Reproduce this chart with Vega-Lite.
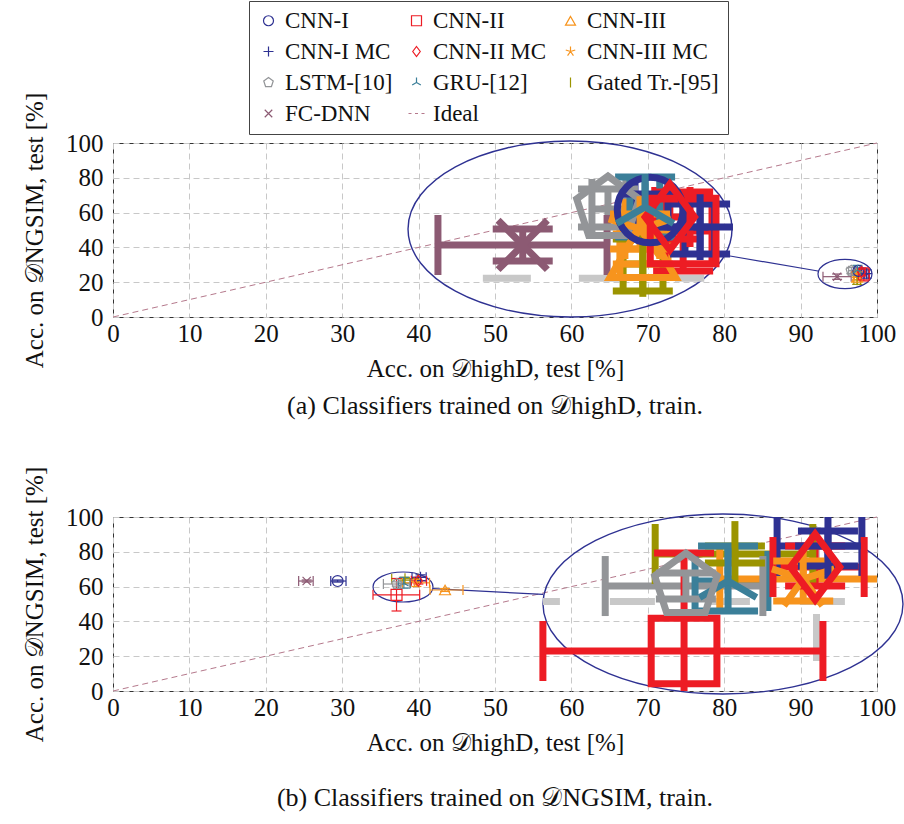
{
"$schema": "https://vega.github.io/schema/vega-lite/v6.json",
"padding": {"left": 22, "top": 0, "right": 0, "bottom": 0},
"spacing": 45,
"config": {
 "font": "Liberation Serif",
 "view": {"stroke": "#333", "strokeWidth": 1},
 "axis": {"labelFont": "Liberation Serif", "labelFontSize": 25, "labelColor": "#111", "titleFont": "Liberation Serif", "titleFontSize": 25, "titleFontWeight": "normal", "titleColor": "#111", "grid": true, "gridColor": "#c8c8c8", "gridDash": [6, 4], "ticks": false, "domain": false, "labelFlush": false, "labelOverlap": false},
 "axisX": {"tickCount": 10, "labelPadding": 4, "titlePadding": 10, "labelFont": "Liberation Serif", "titleFont": "Liberation Serif"},
 "axisY": {"tickCount": 5, "labelPadding": 10, "titlePadding": 18, "labelFont": "Liberation Serif", "titleFont": "Liberation Serif"},
 "title": {"font": "Liberation Serif", "fontSize": 26, "fontWeight": "normal", "color": "#111"},
 "legend": {"orient": "none", "legendX": 136, "legendY": -142, "direction": "horizontal", "columns": 3, "labelFont": "Liberation Serif", "labelFontSize": 23, "labelColor": "#111", "symbolSize": 100, "symbolStrokeWidth": 1.2, "strokeColor": "#444", "fillColor": "#fff", "padding": 8, "rowPadding": 7, "columnPadding": 12, "labelOffset": 5, "labelLimit": 300}
},
"vconcat": [
{
 "width": 764, "height": 174,
 "title": {"text": "(a) Classifiers trained on 𝒟highD, train.", "orient": "bottom", "offset": 12},
 "data": {"values": [
  {"model": "FC-DNN", "x": 94.78, "y": 23.18, "xlo": 92.93, "xhi": 96.62, "ylo": 21.64, "yhi": 24.71},
  {"model": "LSTM-[10]", "x": 96.64, "y": 26.63, "xlo": 96.29, "xhi": 97.03, "ylo": 24.90, "yhi": 28.54},
  {"model": "Gated Tr.-[95]", "x": 97.40, "y": 21.36, "xlo": 96.97, "xhi": 97.84, "ylo": 18.77, "yhi": 23.75},
  {"model": "CNN-III", "x": 97.40, "y": 22.79, "xlo": 96.90, "xhi": 97.95, "ylo": 21.36, "yhi": 24.23},
  {"model": "CNN-III MC", "x": 97.34, "y": 24.71, "xlo": 97.01, "xhi": 97.77, "ylo": 22.79, "yhi": 26.15},
  {"model": "CNN-II", "x": 98.28, "y": 24.52, "xlo": 97.88, "xhi": 98.91, "ylo": 20.69, "yhi": 28.25},
  {"model": "CNN-I MC", "x": 98.65, "y": 24.90, "xlo": 98.32, "xhi": 98.97, "ylo": 22.32, "yhi": 27.10},
  {"model": "CNN-I", "x": 97.56, "y": 26.53, "xlo": 97.23, "xhi": 97.95, "ylo": 24.90, "yhi": 28.06},
  {"model": "CNN-II MC", "x": 97.99, "y": 25.86, "xlo": 97.66, "xhi": 98.43, "ylo": 23.75, "yhi": 27.58},
  {"model": "GRU-[12]", "x": 97.45, "y": 26.82, "xlo": 97.12, "xhi": 97.77, "ylo": 23.94, "yhi": 29.69}
 ]},
 "layer": [
  {"layer": [
   {"data": {"values": [{"x": 0, "y": 0, "xhi": 100, "yhi": 100}]},
    "mark": {"type": "rule", "color": "#b5798c", "strokeDash": [6, 4], "strokeWidth": 1},
    "encoding": {"x": {"field": "x", "type": "quantitative", "scale": {"domain": [0, 100], "nice": false}, "title": "Acc. on 𝒟highD, test [%]"}, "x2": {"field": "xhi"}, "y": {"field": "y", "type": "quantitative", "scale": {"domain": [0, 100], "nice": false}, "title": "Acc. on 𝒟NGSIM, test [%]"}, "y2": {"field": "yhi"}}},
   {"data": {"values": [{"x": 95.81, "y": 24.71}]},
    "mark": {"type": "point", "shape": "M1,0C1,0.3,0.5523,0.543,0,0.543C-0.5523,0.543,-1,0.3,-1,0C-1,-0.3,-0.5523,-0.543,0,-0.543C0.5523,-0.543,1,-0.3,1,0Z", "size": 2916, "filled": false, "color": "#2e3192", "strokeWidth": 1.2, "opacity": 1},
    "encoding": {"x": {"field": "x", "type": "quantitative", "title": "Acc. on 𝒟highD, test [%]"}, "y": {"field": "y", "type": "quantitative", "title": "Acc. on 𝒟NGSIM, test [%]"}}},
   {"data": {"values": [{"x": 59.82, "y": 50.57}]},
    "mark": {"type": "point", "shape": "M1,0C1,0.3,0.5523,0.543,0,0.543C-0.5523,0.543,-1,0.3,-1,0C-1,-0.3,-0.5523,-0.543,0,-0.543C0.5523,-0.543,1,-0.3,1,0Z", "size": 104976, "filled": false, "color": "#2e3192", "strokeWidth": 1.4, "opacity": 1},
    "encoding": {"x": {"field": "x", "type": "quantitative", "title": "Acc. on 𝒟highD, test [%]"}, "y": {"field": "y", "type": "quantitative", "title": "Acc. on 𝒟NGSIM, test [%]"}}},
   {"data": {"values": [{"x": 80.76, "y": 35.06, "xhi": 92.28, "yhi": 26.44}]},
    "mark": {"type": "rule", "color": "#2e3192", "strokeWidth": 1.2},
    "encoding": {"x": {"field": "x", "type": "quantitative", "title": "Acc. on 𝒟highD, test [%]"}, "x2": {"field": "xhi"}, "y": {"field": "y", "type": "quantitative", "title": "Acc. on 𝒟NGSIM, test [%]"}, "y2": {"field": "yhi"}}},
   {"mark": {"type": "rule", "strokeWidth": 1.2},
    "encoding": {"x": {"field": "xlo", "type": "quantitative", "title": "Acc. on 𝒟highD, test [%]"}, "x2": {"field": "xhi"}, "y": {"field": "y", "type": "quantitative", "title": "Acc. on 𝒟NGSIM, test [%]"},
     "color": {"field": "model", "type": "nominal", "title": null, "scale": {"domain": ["CNN-I", "CNN-II", "CNN-III", "CNN-I MC", "CNN-II MC", "CNN-III MC", "LSTM-[10]", "GRU-[12]", "Gated Tr.-[95]", "FC-DNN", "Ideal"], "range": ["#2e3192", "#ed1c24", "#f7941d", "#2e3192", "#ed1c24", "#f7941d", "#939598", "#3b7f99", "#9b9400", "#8c5a73", "#b5798c"]}}}},
   {"mark": {"type": "rule", "strokeWidth": 1.2},
    "encoding": {"x": {"field": "x", "type": "quantitative", "title": "Acc. on 𝒟highD, test [%]"}, "y": {"field": "ylo", "type": "quantitative", "title": "Acc. on 𝒟NGSIM, test [%]"}, "y2": {"field": "yhi"},
     "color": {"field": "model", "type": "nominal", "title": null, "scale": {"domain": ["CNN-I", "CNN-II", "CNN-III", "CNN-I MC", "CNN-II MC", "CNN-III MC", "LSTM-[10]", "GRU-[12]", "Gated Tr.-[95]", "FC-DNN", "Ideal"], "range": ["#2e3192", "#ed1c24", "#f7941d", "#2e3192", "#ed1c24", "#f7941d", "#939598", "#3b7f99", "#9b9400", "#8c5a73", "#b5798c"]}}}},
   {"transform": [{"fold": ["xlo", "xhi"], "as": ["k", "cx"]}],
    "mark": {"type": "point", "shape": "M0,-1L0,1", "size": 100, "filled": false, "strokeWidth": 1.2, "opacity": 1},
    "encoding": {"x": {"field": "cx", "type": "quantitative", "title": "Acc. on 𝒟highD, test [%]"}, "y": {"field": "y", "type": "quantitative", "title": "Acc. on 𝒟NGSIM, test [%]"},
     "color": {"field": "model", "type": "nominal", "title": null, "scale": {"domain": ["CNN-I", "CNN-II", "CNN-III", "CNN-I MC", "CNN-II MC", "CNN-III MC", "LSTM-[10]", "GRU-[12]", "Gated Tr.-[95]", "FC-DNN", "Ideal"], "range": ["#2e3192", "#ed1c24", "#f7941d", "#2e3192", "#ed1c24", "#f7941d", "#939598", "#3b7f99", "#9b9400", "#8c5a73", "#b5798c"]}}}},
   {"transform": [{"fold": ["ylo", "yhi"], "as": ["k", "cy"]}],
    "mark": {"type": "point", "shape": "M-1,0L1,0", "size": 100, "filled": false, "strokeWidth": 1.2, "opacity": 1},
    "encoding": {"x": {"field": "x", "type": "quantitative", "title": "Acc. on 𝒟highD, test [%]"}, "y": {"field": "cy", "type": "quantitative", "title": "Acc. on 𝒟NGSIM, test [%]"},
     "color": {"field": "model", "type": "nominal", "title": null, "scale": {"domain": ["CNN-I", "CNN-II", "CNN-III", "CNN-I MC", "CNN-II MC", "CNN-III MC", "LSTM-[10]", "GRU-[12]", "Gated Tr.-[95]", "FC-DNN", "Ideal"], "range": ["#2e3192", "#ed1c24", "#f7941d", "#2e3192", "#ed1c24", "#f7941d", "#939598", "#3b7f99", "#9b9400", "#8c5a73", "#b5798c"]}}}},
   {"mark": {"type": "point", "size": 120, "filled": false, "strokeWidth": 1.2, "opacity": 1},
    "encoding": {"x": {"field": "x", "type": "quantitative", "title": "Acc. on 𝒟highD, test [%]"}, "y": {"field": "y", "type": "quantitative", "title": "Acc. on 𝒟NGSIM, test [%]"},
     "color": {"field": "model", "type": "nominal", "title": null, "scale": {"domain": ["CNN-I", "CNN-II", "CNN-III", "CNN-I MC", "CNN-II MC", "CNN-III MC", "LSTM-[10]", "GRU-[12]", "Gated Tr.-[95]", "FC-DNN", "Ideal"], "range": ["#2e3192", "#ed1c24", "#f7941d", "#2e3192", "#ed1c24", "#f7941d", "#939598", "#3b7f99", "#9b9400", "#8c5a73", "#b5798c"]}},
     "shape": {"field": "model", "type": "nominal", "title": null, "scale": {"domain": ["CNN-I", "CNN-II", "CNN-III", "CNN-I MC", "CNN-II MC", "CNN-III MC", "LSTM-[10]", "GRU-[12]", "Gated Tr.-[95]", "FC-DNN", "Ideal"], "range": ["circle", "square", "triangle-up", "M-1,0L1,0M0,-1L0,1", "M0,-1L0.75,0L0,1L-0.75,0Z", "M0,0L0,-1M0,0L0.951,-0.309M0,0L0.588,0.809M0,0L-0.588,0.809M0,0L-0.951,-0.309", "M0,-1L0.951,-0.309L0.588,0.809L-0.588,0.809L-0.951,-0.309Z", "M0,0L0,-1M0,0L0.866,0.5M0,0L-0.866,0.5", "M0,-1L0,1", "M-0.75,-0.75L0.75,0.75M-0.75,0.75L0.75,-0.75", "M-1.6,0L-1,0M-0.3,0L0.3,0M1,0L1.6,0"]}}}}
  ]},
  {"layer": [
   {"data": {"values": [{"x": 93.91, "xhi": 98.74, "y": 20}]},
    "mark": {"type": "rule", "color": "#c8c8c8", "strokeWidth": 7, "strokeDash": [48, 48], "clip": true},
    "encoding": {"x": {"field": "x", "type": "quantitative", "scale": {"domain": [85.84, 102.51], "nice": false, "zero": false}, "axis": null}, "x2": {"field": "xhi"}, "y": {"field": "y", "type": "quantitative", "scale": {"domain": [16.28, 32.95], "nice": false, "zero": false}, "axis": null}}},
   {"mark": {"type": "rule", "strokeWidth": 7, "clip": true},
    "encoding": {"x": {"field": "xlo", "type": "quantitative", "scale": {"domain": [85.84, 102.51], "nice": false, "zero": false}, "axis": null}, "x2": {"field": "xhi"}, "y": {"field": "y", "type": "quantitative", "scale": {"domain": [16.28, 32.95], "nice": false, "zero": false}, "axis": null},
     "color": {"field": "model", "type": "nominal", "title": null, "scale": {"domain": ["CNN-I", "CNN-II", "CNN-III", "CNN-I MC", "CNN-II MC", "CNN-III MC", "LSTM-[10]", "GRU-[12]", "Gated Tr.-[95]", "FC-DNN", "Ideal"], "range": ["#2e3192", "#ed1c24", "#f7941d", "#2e3192", "#ed1c24", "#f7941d", "#939598", "#3b7f99", "#9b9400", "#8c5a73", "#b5798c"]}}}},
   {"mark": {"type": "rule", "strokeWidth": 7, "clip": true},
    "encoding": {"x": {"field": "x", "type": "quantitative", "scale": {"domain": [85.84, 102.51], "nice": false, "zero": false}, "axis": null}, "y": {"field": "ylo", "type": "quantitative", "scale": {"domain": [16.28, 32.95], "nice": false, "zero": false}, "axis": null}, "y2": {"field": "yhi"},
     "color": {"field": "model", "type": "nominal", "title": null, "scale": {"domain": ["CNN-I", "CNN-II", "CNN-III", "CNN-I MC", "CNN-II MC", "CNN-III MC", "LSTM-[10]", "GRU-[12]", "Gated Tr.-[95]", "FC-DNN", "Ideal"], "range": ["#2e3192", "#ed1c24", "#f7941d", "#2e3192", "#ed1c24", "#f7941d", "#939598", "#3b7f99", "#9b9400", "#8c5a73", "#b5798c"]}}}},
   {"transform": [{"fold": ["xlo", "xhi"], "as": ["k", "cx"]}],
    "mark": {"type": "point", "shape": "M0,-1L0,1", "size": 3600, "filled": false, "strokeWidth": 7, "opacity": 1, "clip": true},
    "encoding": {"x": {"field": "cx", "type": "quantitative", "scale": {"domain": [85.84, 102.51], "nice": false, "zero": false}, "axis": null}, "y": {"field": "y", "type": "quantitative", "scale": {"domain": [16.28, 32.95], "nice": false, "zero": false}, "axis": null},
     "color": {"field": "model", "type": "nominal", "title": null, "scale": {"domain": ["CNN-I", "CNN-II", "CNN-III", "CNN-I MC", "CNN-II MC", "CNN-III MC", "LSTM-[10]", "GRU-[12]", "Gated Tr.-[95]", "FC-DNN", "Ideal"], "range": ["#2e3192", "#ed1c24", "#f7941d", "#2e3192", "#ed1c24", "#f7941d", "#939598", "#3b7f99", "#9b9400", "#8c5a73", "#b5798c"]}}}},
   {"transform": [{"fold": ["ylo", "yhi"], "as": ["k", "cy"]}],
    "mark": {"type": "point", "shape": "M-1,0L1,0", "size": 3600, "filled": false, "strokeWidth": 7, "opacity": 1, "clip": true},
    "encoding": {"x": {"field": "x", "type": "quantitative", "scale": {"domain": [85.84, 102.51], "nice": false, "zero": false}, "axis": null}, "y": {"field": "cy", "type": "quantitative", "scale": {"domain": [16.28, 32.95], "nice": false, "zero": false}, "axis": null},
     "color": {"field": "model", "type": "nominal", "title": null, "scale": {"domain": ["CNN-I", "CNN-II", "CNN-III", "CNN-I MC", "CNN-II MC", "CNN-III MC", "LSTM-[10]", "GRU-[12]", "Gated Tr.-[95]", "FC-DNN", "Ideal"], "range": ["#2e3192", "#ed1c24", "#f7941d", "#2e3192", "#ed1c24", "#f7941d", "#939598", "#3b7f99", "#9b9400", "#8c5a73", "#b5798c"]}}}},
   {"mark": {"type": "point", "size": 4320, "filled": false, "strokeWidth": 7, "opacity": 1, "clip": true},
    "encoding": {"x": {"field": "x", "type": "quantitative", "scale": {"domain": [85.84, 102.51], "nice": false, "zero": false}, "axis": null}, "y": {"field": "y", "type": "quantitative", "scale": {"domain": [16.28, 32.95], "nice": false, "zero": false}, "axis": null},
     "color": {"field": "model", "type": "nominal", "title": null, "scale": {"domain": ["CNN-I", "CNN-II", "CNN-III", "CNN-I MC", "CNN-II MC", "CNN-III MC", "LSTM-[10]", "GRU-[12]", "Gated Tr.-[95]", "FC-DNN", "Ideal"], "range": ["#2e3192", "#ed1c24", "#f7941d", "#2e3192", "#ed1c24", "#f7941d", "#939598", "#3b7f99", "#9b9400", "#8c5a73", "#b5798c"]}},
     "shape": {"field": "model", "type": "nominal", "title": null, "scale": {"domain": ["CNN-I", "CNN-II", "CNN-III", "CNN-I MC", "CNN-II MC", "CNN-III MC", "LSTM-[10]", "GRU-[12]", "Gated Tr.-[95]", "FC-DNN", "Ideal"], "range": ["circle", "square", "triangle-up", "M-1,0L1,0M0,-1L0,1", "M0,-1L0.75,0L0,1L-0.75,0Z", "M0,0L0,-1M0,0L0.951,-0.309M0,0L0.588,0.809M0,0L-0.588,0.809M0,0L-0.951,-0.309", "M0,-1L0.951,-0.309L0.588,0.809L-0.588,0.809L-0.951,-0.309Z", "M0,0L0,-1M0,0L0.866,0.5M0,0L-0.866,0.5", "M0,-1L0,1", "M-0.75,-0.75L0.75,0.75M-0.75,0.75L0.75,-0.75", "M-1.6,0L-1,0M-0.3,0L0.3,0M1,0L1.6,0"]}}}}
  ]}
 ],
 "resolve": {"scale": {"x": "independent", "y": "independent"}}
},
{
 "width": 764, "height": 174,
 "title": {"text": "(b) Classifiers trained on 𝒟NGSIM, train.", "orient": "bottom", "offset": 30},
 "data": {"values": [
  {"model": "FC-DNN", "x": 25.35, "y": 63.2, "xlo": 24.3, "xhi": 26.2, "ylo": 62.6, "yhi": 63.8},
  {"model": "CNN-I", "x": 29.4, "y": 63.2, "xlo": 28.5, "xhi": 30.5, "ylo": 62.6, "yhi": 63.8},
  {"model": "CNN-III", "x": 43.46, "y": 58.05, "xlo": 41.49, "xhi": 45.81, "ylo": 57.2, "yhi": 58.9},
  {"model": "CNN-II", "x": 37.11, "y": 55.27, "xlo": 34.03, "xhi": 40.14, "ylo": 45.98, "yhi": 64.66},
  {"model": "Gated Tr.-[95]", "x": 38.22, "y": 64.56, "xlo": 36.48, "xhi": 39.92, "ylo": 63.70, "yhi": 65.33},
  {"model": "GRU-[12]", "x": 38.07, "y": 61.97, "xlo": 37.35, "xhi": 38.94, "ylo": 59.1, "yhi": 65.33},
  {"model": "LSTM-[10]", "x": 37.15, "y": 61.49, "xlo": 35.39, "xhi": 38.83, "ylo": 60.25, "yhi": 62.74},
  {"model": "CNN-III MC", "x": 39.71, "y": 62.16, "xlo": 37.89, "xhi": 41.43, "ylo": 60.06, "yhi": 63.89},
  {"model": "CNN-I MC", "x": 40.25, "y": 65.33, "xlo": 39.14, "xhi": 40.99, "ylo": 63.41, "yhi": 66.76},
  {"model": "CNN-II MC", "x": 39.97, "y": 63.31, "xlo": 39.05, "xhi": 41.04, "ylo": 61.49, "yhi": 65.33}
 ]},
 "layer": [
  {"layer": [
   {"data": {"values": [{"x": 0, "y": 0, "xhi": 100, "yhi": 100}]},
    "mark": {"type": "rule", "color": "#b5798c", "strokeDash": [6, 4], "strokeWidth": 1},
    "encoding": {"x": {"field": "x", "type": "quantitative", "scale": {"domain": [0, 100], "nice": false}, "title": "Acc. on 𝒟highD, test [%]"}, "x2": {"field": "xhi"}, "y": {"field": "y", "type": "quantitative", "scale": {"domain": [0, 100], "nice": false}, "title": "Acc. on 𝒟NGSIM, test [%]"}, "y2": {"field": "yhi"}}},
   {"data": {"values": [{"x": 37.96, "y": 59.77}]},
    "mark": {"type": "point", "shape": "M1,0C1,0.276,0.5523,0.5,0,0.5C-0.5523,0.5,-1,0.276,-1,0C-1,-0.276,-0.5523,-0.5,0,-0.5C0.5523,-0.5,1,-0.276,1,0Z", "size": 3600, "filled": false, "color": "#2e3192", "strokeWidth": 1.2, "opacity": 1},
    "encoding": {"x": {"field": "x", "type": "quantitative", "title": "Acc. on 𝒟highD, test [%]"}, "y": {"field": "y", "type": "quantitative", "title": "Acc. on 𝒟NGSIM, test [%]"}}},
   {"data": {"values": [{"x": 79.84, "y": 50.0}]},
    "mark": {"type": "point", "shape": "M1,0C1,0.276,0.5523,0.5,0,0.5C-0.5523,0.5,-1,0.276,-1,0C-1,-0.276,-0.5523,-0.5,0,-0.5C0.5523,-0.5,1,-0.276,1,0Z", "size": 129600, "filled": false, "color": "#2e3192", "strokeWidth": 1.4, "opacity": 1},
    "encoding": {"x": {"field": "x", "type": "quantitative", "title": "Acc. on 𝒟highD, test [%]"}, "y": {"field": "y", "type": "quantitative", "title": "Acc. on 𝒟NGSIM, test [%]"}}},
   {"data": {"values": [{"x": 41.88, "y": 58.85, "xhi": 56.28, "yhi": 55.52}]},
    "mark": {"type": "rule", "color": "#2e3192", "strokeWidth": 1.2},
    "encoding": {"x": {"field": "x", "type": "quantitative", "title": "Acc. on 𝒟highD, test [%]"}, "x2": {"field": "xhi"}, "y": {"field": "y", "type": "quantitative", "title": "Acc. on 𝒟NGSIM, test [%]"}, "y2": {"field": "yhi"}}},
   {"mark": {"type": "rule", "strokeWidth": 1.2},
    "encoding": {"x": {"field": "xlo", "type": "quantitative", "title": "Acc. on 𝒟highD, test [%]"}, "x2": {"field": "xhi"}, "y": {"field": "y", "type": "quantitative", "title": "Acc. on 𝒟NGSIM, test [%]"},
     "color": {"field": "model", "type": "nominal", "title": null, "scale": {"domain": ["CNN-I", "CNN-II", "CNN-III", "CNN-I MC", "CNN-II MC", "CNN-III MC", "LSTM-[10]", "GRU-[12]", "Gated Tr.-[95]", "FC-DNN", "Ideal"], "range": ["#2e3192", "#ed1c24", "#f7941d", "#2e3192", "#ed1c24", "#f7941d", "#939598", "#3b7f99", "#9b9400", "#8c5a73", "#b5798c"]}}}},
   {"mark": {"type": "rule", "strokeWidth": 1.2},
    "encoding": {"x": {"field": "x", "type": "quantitative", "title": "Acc. on 𝒟highD, test [%]"}, "y": {"field": "ylo", "type": "quantitative", "title": "Acc. on 𝒟NGSIM, test [%]"}, "y2": {"field": "yhi"},
     "color": {"field": "model", "type": "nominal", "title": null, "scale": {"domain": ["CNN-I", "CNN-II", "CNN-III", "CNN-I MC", "CNN-II MC", "CNN-III MC", "LSTM-[10]", "GRU-[12]", "Gated Tr.-[95]", "FC-DNN", "Ideal"], "range": ["#2e3192", "#ed1c24", "#f7941d", "#2e3192", "#ed1c24", "#f7941d", "#939598", "#3b7f99", "#9b9400", "#8c5a73", "#b5798c"]}}}},
   {"transform": [{"fold": ["xlo", "xhi"], "as": ["k", "cx"]}],
    "mark": {"type": "point", "shape": "M0,-1L0,1", "size": 100, "filled": false, "strokeWidth": 1.2, "opacity": 1},
    "encoding": {"x": {"field": "cx", "type": "quantitative", "title": "Acc. on 𝒟highD, test [%]"}, "y": {"field": "y", "type": "quantitative", "title": "Acc. on 𝒟NGSIM, test [%]"},
     "color": {"field": "model", "type": "nominal", "title": null, "scale": {"domain": ["CNN-I", "CNN-II", "CNN-III", "CNN-I MC", "CNN-II MC", "CNN-III MC", "LSTM-[10]", "GRU-[12]", "Gated Tr.-[95]", "FC-DNN", "Ideal"], "range": ["#2e3192", "#ed1c24", "#f7941d", "#2e3192", "#ed1c24", "#f7941d", "#939598", "#3b7f99", "#9b9400", "#8c5a73", "#b5798c"]}}}},
   {"transform": [{"fold": ["ylo", "yhi"], "as": ["k", "cy"]}],
    "mark": {"type": "point", "shape": "M-1,0L1,0", "size": 100, "filled": false, "strokeWidth": 1.2, "opacity": 1},
    "encoding": {"x": {"field": "x", "type": "quantitative", "title": "Acc. on 𝒟highD, test [%]"}, "y": {"field": "cy", "type": "quantitative", "title": "Acc. on 𝒟NGSIM, test [%]"},
     "color": {"field": "model", "type": "nominal", "title": null, "scale": {"domain": ["CNN-I", "CNN-II", "CNN-III", "CNN-I MC", "CNN-II MC", "CNN-III MC", "LSTM-[10]", "GRU-[12]", "Gated Tr.-[95]", "FC-DNN", "Ideal"], "range": ["#2e3192", "#ed1c24", "#f7941d", "#2e3192", "#ed1c24", "#f7941d", "#939598", "#3b7f99", "#9b9400", "#8c5a73", "#b5798c"]}}}},
   {"mark": {"type": "point", "size": 120, "filled": false, "strokeWidth": 1.2, "opacity": 1},
    "encoding": {"x": {"field": "x", "type": "quantitative", "title": "Acc. on 𝒟highD, test [%]"}, "y": {"field": "y", "type": "quantitative", "title": "Acc. on 𝒟NGSIM, test [%]"},
     "color": {"field": "model", "type": "nominal", "title": null, "scale": {"domain": ["CNN-I", "CNN-II", "CNN-III", "CNN-I MC", "CNN-II MC", "CNN-III MC", "LSTM-[10]", "GRU-[12]", "Gated Tr.-[95]", "FC-DNN", "Ideal"], "range": ["#2e3192", "#ed1c24", "#f7941d", "#2e3192", "#ed1c24", "#f7941d", "#939598", "#3b7f99", "#9b9400", "#8c5a73", "#b5798c"]}},
     "shape": {"field": "model", "type": "nominal", "title": null, "scale": {"domain": ["CNN-I", "CNN-II", "CNN-III", "CNN-I MC", "CNN-II MC", "CNN-III MC", "LSTM-[10]", "GRU-[12]", "Gated Tr.-[95]", "FC-DNN", "Ideal"], "range": ["circle", "square", "triangle-up", "M-1,0L1,0M0,-1L0,1", "M0,-1L0.75,0L0,1L-0.75,0Z", "M0,0L0,-1M0,0L0.951,-0.309M0,0L0.588,0.809M0,0L-0.588,0.809M0,0L-0.951,-0.309", "M0,-1L0.951,-0.309L0.588,0.809L-0.588,0.809L-0.951,-0.309Z", "M0,0L0,-1M0,0L0.866,0.5M0,0L-0.866,0.5", "M0,-1L0,1", "M-0.75,-0.75L0.75,0.75M-0.75,0.75L0.75,-0.75", "M-1.6,0L-1,0M-0.3,0L0.3,0M1,0L1.6,0"]}}}}
  ]},
  {"transform": [{"filter": "datum.x > 33 && datum.x < 42"}],
   "layer": [
   {"data": {"values": [{"x": 34.03, "xhi": 41.32, "y": 60}]},
    "mark": {"type": "rule", "color": "#c8c8c8", "strokeWidth": 7, "strokeDash": [45, 50], "strokeDashOffset": 28, "clip": true},
    "encoding": {"x": {"field": "x", "type": "quantitative", "scale": {"domain": [24.65, 41.32], "nice": false, "zero": false}, "axis": null}, "x2": {"field": "xhi"}, "y": {"field": "y", "type": "quantitative", "scale": {"domain": [51.44, 68.10], "nice": false, "zero": false}, "axis": null}}},
   {"data": {"values": [{"x": 40, "y": 67.15, "yhi": 52.39}]},
    "mark": {"type": "rule", "color": "#c8c8c8", "strokeWidth": 7, "strokeDash": [47, 48], "strokeDashOffset": 8, "clip": true},
    "encoding": {"x": {"field": "x", "type": "quantitative", "scale": {"domain": [24.65, 41.32], "nice": false, "zero": false}, "axis": null}, "y": {"field": "y", "type": "quantitative", "scale": {"domain": [51.44, 68.10], "nice": false, "zero": false}, "axis": null}, "y2": {"field": "yhi"}}},
   {"mark": {"type": "rule", "strokeWidth": 7, "clip": true},
    "encoding": {"x": {"field": "xlo", "type": "quantitative", "scale": {"domain": [24.65, 41.32], "nice": false, "zero": false}, "axis": null}, "x2": {"field": "xhi"}, "y": {"field": "y", "type": "quantitative", "scale": {"domain": [51.44, 68.10], "nice": false, "zero": false}, "axis": null},
     "color": {"field": "model", "type": "nominal", "title": null, "scale": {"domain": ["CNN-I", "CNN-II", "CNN-III", "CNN-I MC", "CNN-II MC", "CNN-III MC", "LSTM-[10]", "GRU-[12]", "Gated Tr.-[95]", "FC-DNN", "Ideal"], "range": ["#2e3192", "#ed1c24", "#f7941d", "#2e3192", "#ed1c24", "#f7941d", "#939598", "#3b7f99", "#9b9400", "#8c5a73", "#b5798c"]}}}},
   {"mark": {"type": "rule", "strokeWidth": 7, "clip": true},
    "encoding": {"x": {"field": "x", "type": "quantitative", "scale": {"domain": [24.65, 41.32], "nice": false, "zero": false}, "axis": null}, "y": {"field": "ylo", "type": "quantitative", "scale": {"domain": [51.44, 68.10], "nice": false, "zero": false}, "axis": null}, "y2": {"field": "yhi"},
     "color": {"field": "model", "type": "nominal", "title": null, "scale": {"domain": ["CNN-I", "CNN-II", "CNN-III", "CNN-I MC", "CNN-II MC", "CNN-III MC", "LSTM-[10]", "GRU-[12]", "Gated Tr.-[95]", "FC-DNN", "Ideal"], "range": ["#2e3192", "#ed1c24", "#f7941d", "#2e3192", "#ed1c24", "#f7941d", "#939598", "#3b7f99", "#9b9400", "#8c5a73", "#b5798c"]}}}},
   {"transform": [{"fold": ["xlo", "xhi"], "as": ["k", "cx"]}],
    "mark": {"type": "point", "shape": "M0,-1L0,1", "size": 3600, "filled": false, "strokeWidth": 7, "opacity": 1, "clip": true},
    "encoding": {"x": {"field": "cx", "type": "quantitative", "scale": {"domain": [24.65, 41.32], "nice": false, "zero": false}, "axis": null}, "y": {"field": "y", "type": "quantitative", "scale": {"domain": [51.44, 68.10], "nice": false, "zero": false}, "axis": null},
     "color": {"field": "model", "type": "nominal", "title": null, "scale": {"domain": ["CNN-I", "CNN-II", "CNN-III", "CNN-I MC", "CNN-II MC", "CNN-III MC", "LSTM-[10]", "GRU-[12]", "Gated Tr.-[95]", "FC-DNN", "Ideal"], "range": ["#2e3192", "#ed1c24", "#f7941d", "#2e3192", "#ed1c24", "#f7941d", "#939598", "#3b7f99", "#9b9400", "#8c5a73", "#b5798c"]}}}},
   {"transform": [{"fold": ["ylo", "yhi"], "as": ["k", "cy"]}],
    "mark": {"type": "point", "shape": "M-1,0L1,0", "size": 3600, "filled": false, "strokeWidth": 7, "opacity": 1, "clip": true},
    "encoding": {"x": {"field": "x", "type": "quantitative", "scale": {"domain": [24.65, 41.32], "nice": false, "zero": false}, "axis": null}, "y": {"field": "cy", "type": "quantitative", "scale": {"domain": [51.44, 68.10], "nice": false, "zero": false}, "axis": null},
     "color": {"field": "model", "type": "nominal", "title": null, "scale": {"domain": ["CNN-I", "CNN-II", "CNN-III", "CNN-I MC", "CNN-II MC", "CNN-III MC", "LSTM-[10]", "GRU-[12]", "Gated Tr.-[95]", "FC-DNN", "Ideal"], "range": ["#2e3192", "#ed1c24", "#f7941d", "#2e3192", "#ed1c24", "#f7941d", "#939598", "#3b7f99", "#9b9400", "#8c5a73", "#b5798c"]}}}},
   {"mark": {"type": "point", "size": 4320, "filled": false, "strokeWidth": 7, "opacity": 1, "clip": true},
    "encoding": {"x": {"field": "x", "type": "quantitative", "scale": {"domain": [24.65, 41.32], "nice": false, "zero": false}, "axis": null}, "y": {"field": "y", "type": "quantitative", "scale": {"domain": [51.44, 68.10], "nice": false, "zero": false}, "axis": null},
     "color": {"field": "model", "type": "nominal", "title": null, "scale": {"domain": ["CNN-I", "CNN-II", "CNN-III", "CNN-I MC", "CNN-II MC", "CNN-III MC", "LSTM-[10]", "GRU-[12]", "Gated Tr.-[95]", "FC-DNN", "Ideal"], "range": ["#2e3192", "#ed1c24", "#f7941d", "#2e3192", "#ed1c24", "#f7941d", "#939598", "#3b7f99", "#9b9400", "#8c5a73", "#b5798c"]}},
     "shape": {"field": "model", "type": "nominal", "title": null, "scale": {"domain": ["CNN-I", "CNN-II", "CNN-III", "CNN-I MC", "CNN-II MC", "CNN-III MC", "LSTM-[10]", "GRU-[12]", "Gated Tr.-[95]", "FC-DNN", "Ideal"], "range": ["circle", "square", "triangle-up", "M-1,0L1,0M0,-1L0,1", "M0,-1L0.75,0L0,1L-0.75,0Z", "M0,0L0,-1M0,0L0.951,-0.309M0,0L0.588,0.809M0,0L-0.588,0.809M0,0L-0.951,-0.309", "M0,-1L0.951,-0.309L0.588,0.809L-0.588,0.809L-0.951,-0.309Z", "M0,0L0,-1M0,0L0.866,0.5M0,0L-0.866,0.5", "M0,-1L0,1", "M-0.75,-0.75L0.75,0.75M-0.75,0.75L0.75,-0.75", "M-1.6,0L-1,0M-0.3,0L0.3,0M1,0L1.6,0"]}}}}
  ]}
 ],
 "resolve": {"scale": {"x": "independent", "y": "independent"}}
}
]
}
